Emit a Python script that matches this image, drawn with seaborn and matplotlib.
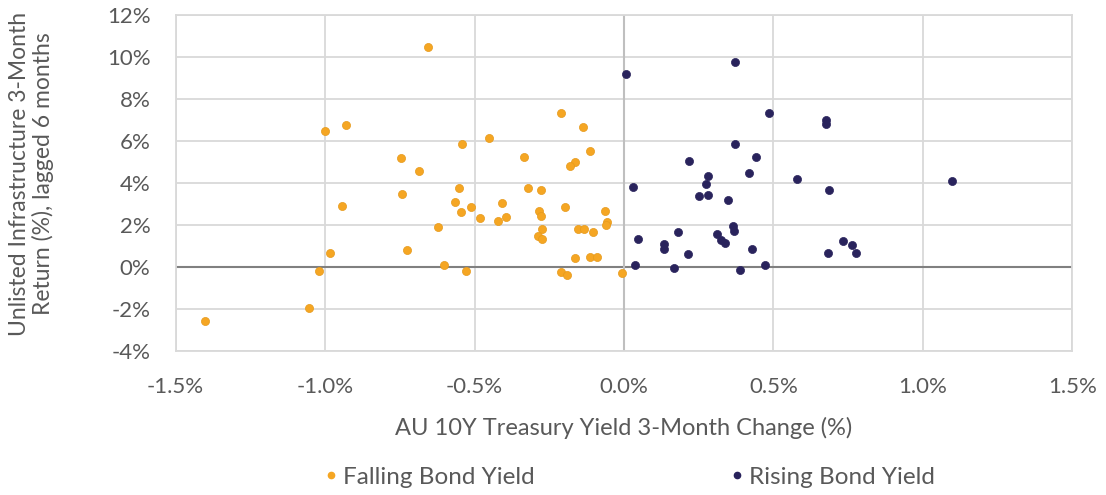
import matplotlib
matplotlib.use("Agg")
import matplotlib.pyplot as plt
import matplotlib.ticker as mticker
from matplotlib.lines import Line2D
import seaborn as sns
import pandas as pd

falling_x = [-0.657, -0.999, -0.930, -0.541, -0.747, -0.687, -0.553, -0.741, -0.566, -0.545,
             -0.944, -0.622, -0.725, -0.985, -0.601, -1.020, -0.528, -1.055, -1.402, -0.211,
             -0.138, -0.450, -0.113, -0.334, -0.164, -0.181, -0.322, -0.279, -0.408, -0.198,
             -0.511, -0.284, -0.065, -0.279, -0.481, -0.421, -0.395, -0.056, -0.061, -0.274,
             -0.155, -0.134, -0.104, -0.289, -0.274, -0.164, -0.113, -0.090, -0.211, -0.190,
             -0.006]
falling_y = [10.48, 6.46, 6.76, 5.86, 5.18, 4.56, 3.77, 3.47, 3.11, 2.63,
             2.92, 1.89, 0.79, 0.67, 0.11, -0.19, -0.19, -1.96, -2.57, 7.32,
             6.65, 6.16, 5.54, 5.24, 4.99, 4.82, 3.77, 3.66, 3.06, 2.87,
             2.87, 2.68, 2.68, 2.42, 2.31, 2.19, 2.38, 2.14, 2.00, 1.82,
             1.82, 1.82, 1.65, 1.46, 1.35, 0.43, 0.49, 0.49, -0.25, -0.36,
             -0.30]
rising_x = [0.008, 0.372, 0.485, 0.677, 0.677, 0.372, 0.440, 0.217, 0.419, 0.579,
            0.282, 0.274, 0.029, 0.686, 0.252, 0.282, 0.347, 0.364, 0.369, 0.180,
            0.312, 0.326, 0.338, 0.047, 0.133, 0.133, 0.428, 0.732, 0.214, 0.681,
            0.038, 0.471, 0.167, 0.389, 0.763, 0.776, 1.097]
rising_y = [9.20, 9.76, 7.32, 7.02, 6.83, 5.86, 5.24, 5.05, 4.45, 4.20,
            4.32, 3.96, 3.83, 3.66, 3.36, 3.42, 3.17, 1.95, 1.70, 1.65,
            1.59, 1.28, 1.16, 1.35, 1.09, 0.86, 0.86, 1.22, 0.60, 0.67,
            0.11, 0.11, -0.06, -0.13, 1.03, 0.67, 4.07]

series_names = ["Falling Bond Yield", "Rising Bond Yield"]
x_ticks = [-1.5, -1.0, -0.5, 0.0, 0.5, 1.0, 1.5]
y_ticks = [-4, -2, 0, 2, 4, 6, 8, 10, 12]
x_label = "AU 10Y Treasury Yield 3-Month Change (%)"
y_label = "Unlisted Infrastructure 3-Month\nReturn (%), lagged 6 months"

colors = {"Falling Bond Yield": "#F5A623", "Rising Bond Yield": "#29235C"}
edge = {"Falling Bond Yield": "#E69A1C", "Rising Bond Yield": "#29235C"}

df = pd.DataFrame({
    "x": falling_x + rising_x,
    "y": falling_y + rising_y,
    "series": [series_names[0]] * len(falling_x) + [series_names[1]] * len(rising_x),
})

sns.set_theme(style="white")
plt.rcParams["font.family"] = ["Lato", "DejaVu Sans"]

fig = plt.figure(figsize=(11.06, 4.95), dpi=100)
ax = fig.add_axes([0.1587, 0.2909, 0.811, 0.679])

grid_c = "#D9D9D9"
text_c = "#595959"
ax.set_xlim(-1.5, 1.5)
ax.set_ylim(-4, 12)
ax.set_xticks(x_ticks)
ax.set_yticks(y_ticks)
ax.grid(True, color=grid_c, linewidth=1.3)
ax.set_axisbelow(True)
for s in ax.spines.values():
    s.set_color(grid_c)
    s.set_linewidth(1.3)
ax.axhline(0, color="#808080", linewidth=1.5, zorder=1)
ax.axvline(0, color="#BFBFBF", linewidth=1.5, zorder=1)

for name in series_names:
    sub = df[df["series"] == name]
    sns.scatterplot(data=sub, x="x", y="y", ax=ax, color=colors[name],
                    edgecolor=edge[name], linewidth=0.5, s=34, zorder=3, legend=False)

ax.xaxis.set_major_formatter(mticker.FuncFormatter(lambda v, p: f"{v:.1f}%"))
ax.yaxis.set_major_formatter(mticker.FuncFormatter(lambda v, p: f"{int(round(v))}%"))
ax.tick_params(axis="y", labelsize=16, colors=text_c, length=0, pad=18)
ax.tick_params(axis="x", labelsize=16, colors=text_c, length=0, pad=19)
ax.set_xlabel("")
ax.set_ylabel("")
fig.text(624 / 1106, 1 - 428 / 495, x_label, fontsize=17, color=text_c,
         ha="center", va="center")
fig.text(31.5 / 1106, 1 - 174 / 495, y_label, fontsize=16.5, color=text_c,
         ha="center", va="center", rotation=90, linespacing=1.15, multialignment="center")

handles = [Line2D([0], [0], marker="o", linestyle="", markersize=4.5,
                  markerfacecolor=colors[n], markeredgecolor=colors[n]) for n in series_names]
fig.legend(handles, series_names, loc="center", bbox_to_anchor=(0.568, 1 - 477 / 495),
           ncol=2, frameon=False, fontsize=17.5, labelcolor=text_c,
           handletextpad=0.1, columnspacing=7.9, handlelength=0.8)

fig.savefig("out.png", dpi=100)
